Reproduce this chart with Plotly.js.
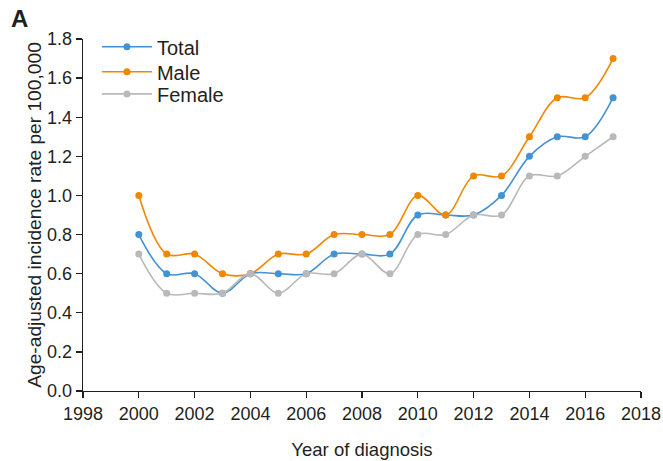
<!DOCTYPE html>
<html>
<head>
<meta charset="utf-8">
<script src="https://cdn.plot.ly/plotly-3.0.1.min.js"></script>
<style>html,body{margin:0;padding:0;background:#fff;}#chart{width:663px;height:461px;}</style>
</head>
<body>
<div id="chart"></div>
<script>
var years = [2000,2001,2002,2003,2004,2005,2006,2007,2008,2009,2010,2011,2012,2013,2014,2015,2016,2017];
var totalRate  = [0.8,0.6,0.6,0.5,0.6,0.6,0.6,0.7,0.7,0.7,0.9,0.9,0.9,1.0,1.2,1.3,1.3,1.5];
var maleRate   = [1.0,0.7,0.7,0.6,0.6,0.7,0.7,0.8,0.8,0.8,1.0,0.9,1.1,1.1,1.3,1.5,1.5,1.7];
var femaleRate = [0.7,0.5,0.5,0.5,0.6,0.5,0.6,0.6,0.7,0.6,0.8,0.8,0.9,0.9,1.1,1.1,1.2,1.3];
var seriesNames = ['Total','Male','Female'];
var yTickVals = [0,0.2,0.4,0.6,0.8,1.0,1.2,1.4,1.6,1.8];
var xTickVals = [1998,2000,2002,2004,2006,2008,2010,2012,2014,2016,2018];

var colors = ['#4392d3','#f08700','#b9b9b9'];
var legendIds = ['legend','legend2','legend3'];
var legendY = [0.978, 0.907, 0.844];
var data = [totalRate, maleRate, femaleRate];
var traces = data.map(function(vals, i){
  return {
    x: years, y: vals, name: seriesNames[i], type: 'scatter', mode: 'lines+markers',
    legend: legendIds[i],
    line: {color: colors[i], width: 1.6, shape: 'spline', smoothing: 1},
    marker: {color: colors[i], size: 7}
  };
});

var ff = 'Liberation Sans, Arial, sans-serif';
var txt = '#231f20';
function mkLegend(y){
  return {x: 0.025, y: y, xanchor: 'left', yanchor: 'middle', font: {size: 20, family: ff, color: txt},
          bgcolor: 'rgba(0,0,0,0)', itemwidth: 50};
}
var layout = {
  width: 663, height: 461,
  margin: {l: 83, r: 22, t: 39, b: 70},
  paper_bgcolor: '#fff', plot_bgcolor: '#fff',
  font: {family: ff, color: txt},
  showlegend: true,
  legend: mkLegend(legendY[0]),
  legend2: mkLegend(legendY[1]),
  legend3: mkLegend(legendY[2]),
  xaxis: {
    range: [1998, 2018], tickvals: xTickVals, ticktext: xTickVals.map(String),
    showgrid: false, zeroline: false, showline: true, linecolor: txt, linewidth: 1.3,
    ticks: 'outside', ticklen: 6, tickcolor: txt, tickwidth: 1.3,
    tickfont: {size: 18, family: ff, color: txt},
    title: {text: 'Year of diagnosis', font: {size: 18.5, family: ff, color: txt}, standoff: 20}
  },
  yaxis: {
    range: [0, 1.8], tickvals: yTickVals, tickformat: '.1f',
    showgrid: false, zeroline: false, showline: true, linecolor: txt, linewidth: 1.3,
    ticks: 'outside', ticklen: 6, tickcolor: txt, tickwidth: 1.3,
    tickfont: {size: 18, family: ff, color: txt},
    title: {text: 'Age-adjusted incidence rate per 100,000', font: {size: 19.2, family: ff, color: txt}, standoff: 0}
  },
  annotations: [{
    text: '<b>A</b>', xref: 'paper', yref: 'paper', x: -0.133, y: 1.057, xanchor: 'left', yanchor: 'middle',
    showarrow: false, font: {size: 24, family: ff, color: txt}
  }]
};
Plotly.newPlot('chart', traces, layout, {displayModeBar: false, staticPlot: true});
</script>
</body>
</html>
